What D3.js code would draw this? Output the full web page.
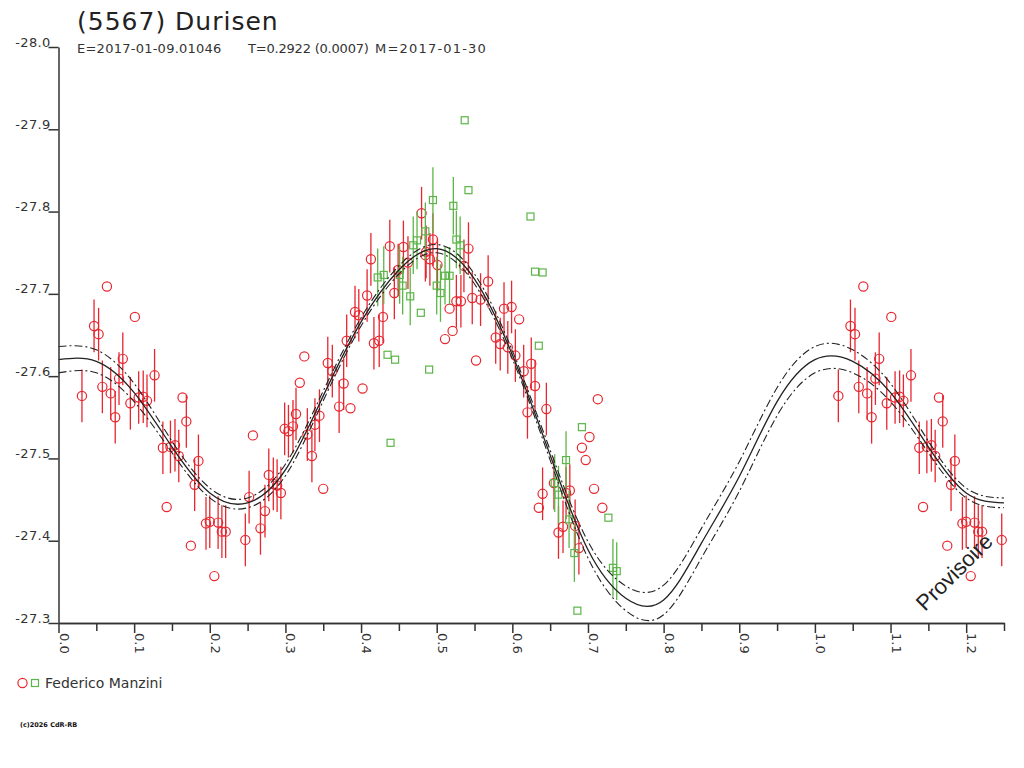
<!DOCTYPE html>
<html>
<head>
<meta charset="utf-8">
<script src="https://cdn.jsdelivr.net/npm/d3@7"></script>
<style>
  body { margin: 0; background: #fff; }
  text { font-family: "DejaVu Sans", sans-serif; fill: #333; }
</style>
</head>
<body>
<div id="chart"></div>
<script>
var yTicks = [-28.0, -27.9, -27.8, -27.7, -27.6, -27.5, -27.4, -27.3];
var xTicks = [0.0, 0.1, 0.2, 0.3, 0.4, 0.5, 0.6, 0.7, 0.8, 0.9, 1.0, 1.1, 1.2];
var xMinorTicks = [0.05, 0.15, 0.25, 0.35, 0.45, 0.55, 0.65, 0.75, 0.85, 0.95, 1.05, 1.15, 1.25];

// red circles
var redPhase = [
  0.031,0.064,0.047,0.053,0.101,0.058,0.069,0.080,0.085,0.075,
  0.095,0.106,0.112,0.117,0.127,0.164,0.169,0.138,0.148,0.154,
  0.159,0.143,0.185,0.180,0.175,0.195,0.200,0.211,0.216,0.221,
  0.206,0.257,0.252,0.247,0.273,0.267,0.278,0.284,0.289,0.294,
  0.325,0.319,0.314,0.310,0.299,0.304,0.329,0.335,0.339,0.345,
  0.350,0.356,0.362,0.377,0.371,0.386,0.402,0.381,0.392,0.397,
  0.408,0.413,0.429,0.417,0.424,0.438,0.444,0.449,0.456,0.462,
  0.480,0.486,0.491,0.495,0.501,0.485,0.517,0.511,0.542,0.536,
  0.568,0.526,0.532,0.547,0.558,0.521,0.552,0.589,0.599,0.609,
  0.578,0.584,0.594,0.604,0.615,0.625,0.630,0.620,0.645,0.713,
  0.702,0.692,0.697,0.708,0.719,0.640,0.635,0.655,0.676,0.671,
  0.667,0.661,0.683,0.688];
var redMag = [
  -27.576,-27.709,-27.661,-27.651,-27.672,-27.587,-27.579,-27.597,-27.621,-27.550,
  -27.567,-27.574,-27.575,-27.570,-27.601,-27.574,-27.545,-27.513,-27.514,-27.516,
  -27.503,-27.441,-27.497,-27.468,-27.394,-27.421,-27.423,-27.422,-27.411,-27.411,
  -27.357,-27.528,-27.453,-27.401,-27.436,-27.415,-27.480,-27.469,-27.467,-27.458,
  -27.624,-27.592,-27.554,-27.539,-27.536,-27.533,-27.529,-27.503,-27.541,-27.552,
  -27.463,-27.616,-27.606,-27.591,-27.563,-27.561,-27.585,-27.643,-27.678,-27.674,
  -27.698,-27.742,-27.672,-27.640,-27.643,-27.758,-27.701,-27.729,-27.757,-27.738,
  -27.798,-27.751,-27.742,-27.766,-27.735,-27.747,-27.682,-27.645,-27.755,-27.734,
  -27.715,-27.691,-27.691,-27.695,-27.693,-27.655,-27.619,-27.682,-27.684,-27.669,
  -27.647,-27.639,-27.635,-27.625,-27.606,-27.615,-27.588,-27.556,-27.560,-27.572,
  -27.526,-27.513,-27.498,-27.463,-27.440,-27.457,-27.440,-27.470,-27.461,-27.458,
  -27.417,-27.410,-27.418,-27.391];
var redErr = [
  .032,0,.032,.032,0,.032,.032,.032,.032,.032,
  .032,.032,.032,.032,.032,0,.032,.032,.032,.032,
  .032,0,.032,.032,0,.032,.032,.032,.032,.032,
  0,0,.032,.032,.032,.032,.032,.032,.032,.032,
  0,0,.032,.032,.032,.032,.032,.032,.032,.032,
  0,.032,.032,.032,.032,0,0,.032,.032,.032,
  .032,.032,.032,.032,.032,.032,.032,.032,.032,.032,
  .032,.032,.032,.032,.032,.032,0,0,.032,.032,
  .032,.032,.032,.032,.032,0,0,.032,.032,0,
  .032,.032,.032,.032,.032,.032,.032,.032,.032,0,
  0,0,0,0,0,.032,0,.032,.032,.032,
  .032,.032,.032,.032];

// green squares
var greenPhase = [
  0.495,0.522,0.542,0.537,0.485,0.474,0.469,0.526,0.531,0.422,
  0.430,0.451,0.455,0.465,0.500,0.505,0.511,0.517,0.479,0.435,
  0.445,0.490,0.439,0.624,0.630,0.640,0.635,0.692,0.671,0.656,
  0.661,0.675,0.682,0.727,0.733,0.738,0.686];
var greenMag = [
  -27.814,-27.807,-27.826,-27.911,-27.776,-27.765,-27.759,-27.766,-27.759,-27.720,
  -27.723,-27.723,-27.710,-27.697,-27.710,-27.701,-27.722,-27.722,-27.677,-27.626,
  -27.620,-27.608,-27.519,-27.794,-27.727,-27.726,-27.637,-27.538,-27.498,-27.470,
  -27.456,-27.426,-27.385,-27.428,-27.367,-27.363,-27.315];
var greenErr = [
  .04,.035,0,0,.035,.035,.035,.035,.035,.035,
  .035,.035,.035,.035,.035,.035,.035,.035,0,0,
  0,0,0,0,0,0,0,0,.035,.035,
  .035,.035,.035,0,.035,.035,0];

// fitted curve and its envelope
var fitPhase = [0,0.05,0.1,0.15,0.2,0.25,0.3,0.35,0.4,0.45,0.5,0.55,0.6,
                0.65,0.7,0.75,0.8,0.85,0.9,0.95,1.0,1.05,1.1,1.15,1.2,1.25];
var fitMag = [-27.620,-27.618,-27.580,-27.514,-27.458,-27.446,-27.486,-27.576,-27.666,
              -27.729,-27.755,-27.718,-27.626,-27.504,-27.389,-27.330,-27.328,-27.397,
              -27.478,-27.569,-27.620,-27.618,-27.580,-27.514,-27.458,-27.446];
var fitUpper = [-27.636,-27.632,-27.591,-27.521,-27.464,-27.452,-27.493,-27.582,-27.671,
                -27.734,-27.760,-27.724,-27.631,-27.510,-27.399,-27.345,-27.346,-27.415,
                -27.496,-27.586,-27.636,-27.632,-27.591,-27.521,-27.464,-27.452];
var fitLower = [-27.604,-27.604,-27.569,-27.507,-27.452,-27.440,-27.479,-27.570,-27.661,
                -27.724,-27.750,-27.712,-27.621,-27.498,-27.379,-27.315,-27.310,-27.379,
                -27.460,-27.552,-27.604,-27.604,-27.569,-27.507,-27.452,-27.440];

var red = "#e8262f", green = "#5cb548", ink = "#222";

var svg = d3.select("#chart").append("svg")
    .attr("width", 1024)
    .attr("height", 768);

var x = d3.scaleLinear().domain([0, 1.25]).range([58.5, 1004]);
var y = d3.scaleLinear().domain([-28.0, -27.3]).range([47, 623]);

// points are repeated one cycle later where the axis goes past 1.0
function withRepeat(phase, mag, err) {
  var pts = [];
  phase.forEach(function(p, i) {
    pts.push({p: p, m: mag[i], e: err[i]});
    if (p + 1 <= 1.25) pts.push({p: p + 1, m: mag[i], e: err[i]});
  });
  return pts;
}
var redPts = withRepeat(redPhase, redMag, redErr);
var greenPts = withRepeat(greenPhase, greenMag, greenErr);

// error bars
svg.append("g").selectAll("line")
  .data(redPts.filter(function(d) { return d.e > 0; }))
  .enter().append("line")
    .attr("x1", function(d) { return x(d.p); })
    .attr("x2", function(d) { return x(d.p); })
    .attr("y1", function(d) { return y(d.m - d.e); })
    .attr("y2", function(d) { return y(d.m + d.e); })
    .style("stroke", red)
    .style("stroke-width", 1.3);

svg.append("g").selectAll("circle")
  .data(redPts)
  .enter().append("circle")
    .attr("cx", function(d) { return x(d.p); })
    .attr("cy", function(d) { return y(d.m); })
    .attr("r", 4.6)
    .style("fill", "none")
    .style("stroke", red)
    .style("stroke-width", 1.2);

svg.append("g").selectAll("line")
  .data(greenPts.filter(function(d) { return d.e > 0; }))
  .enter().append("line")
    .attr("x1", function(d) { return x(d.p); })
    .attr("x2", function(d) { return x(d.p); })
    .attr("y1", function(d) { return y(d.m - d.e); })
    .attr("y2", function(d) { return y(d.m + d.e); })
    .style("stroke", green)
    .style("stroke-width", 1.3);

svg.append("g").selectAll("rect")
  .data(greenPts)
  .enter().append("rect")
    .attr("x", function(d) { return x(d.p) - 3.5; })
    .attr("y", function(d) { return y(d.m) - 3.5; })
    .attr("width", 7)
    .attr("height", 7)
    .style("fill", "none")
    .style("stroke", green)
    .style("stroke-width", 1.2);

// fit curves
function curveLine(vals) {
  return d3.line()
    .x(function(d, i) { return x(fitPhase[i]); })
    .y(function(d) { return y(d); })
    .curve(d3.curveNatural)(vals);
}
svg.append("path").attr("d", curveLine(fitMag))
  .style("fill", "none").style("stroke", ink).style("stroke-width", 1.3);
[fitUpper, fitLower].forEach(function(v) {
  svg.append("path").attr("d", curveLine(v))
    .style("fill", "none").style("stroke", ink).style("stroke-width", 1.1)
    .style("stroke-dasharray", "8,3,2,3");
});

// axes
var yAxis = d3.axisLeft(y).tickValues(yTicks).tickSize(10).tickSizeOuter(0)
    .tickFormat(function(d) { return d.toFixed(1); });
var yG = svg.append("g").attr("transform", "translate(58.5,0)").call(yAxis);
yG.selectAll("text")
    .attr("x", -8).attr("y", -1).attr("dy", 0)
    .style("font-size", "13px").style("letter-spacing", "0.3px")
    .style("font-family", "DejaVu Sans").style("fill", "#333");

var xMinor = d3.axisBottom(x).tickValues(xMinorTicks).tickSize(8).tickSizeOuter(0).tickFormat("");
svg.append("g").attr("transform", "translate(0,623)").call(xMinor);
var xAxis = d3.axisBottom(x).tickValues(xTicks).tickSize(10).tickSizeOuter(0)
    .tickFormat(function(d) { return d.toFixed(1); });
var xG = svg.append("g").attr("transform", "translate(0,623)").call(xAxis);
xG.selectAll("text")
    .attr("transform", "rotate(90)")
    .attr("x", 10).attr("y", -0.5).attr("dy", 0)
    .style("text-anchor", "start")
    .style("font-size", "13px")
    .style("font-family", "DejaVu Sans").style("fill", "#333");

svg.selectAll(".domain, .tick line").style("stroke", "#333").style("stroke-width", 1.5);

// titles
svg.append("text").attr("x", 77).attr("y", 30)
    .style("font-size", "25px").style("letter-spacing", "1px").style("fill", ink)
    .text("(5567) Durisen");
svg.append("text").attr("x", 77).attr("y", 53).style("font-size", "13px")
    .style("letter-spacing", "0.25px").text("E=2017-01-09.01046");
svg.append("text").attr("x", 248).attr("y", 53).style("font-size", "13px")
    .style("letter-spacing", "-0.2px").text("T=0.2922 (0.0007)");
svg.append("text").attr("x", 375).attr("y", 53).style("font-size", "13px")
    .style("letter-spacing", "1.2px").text("M=2017-01-30");

// watermark
svg.append("text")
    .attr("transform", "translate(925,612) rotate(-45)")
    .style("font-family", "Liberation Sans, Arial, sans-serif")
    .style("font-size", "22px").style("fill", ink)
    .text("Provisoire");

// legend
svg.append("circle").attr("cx", 22.5).attr("cy", 683).attr("r", 4.6)
    .style("fill", "none").style("stroke", red).style("stroke-width", 1.2);
svg.append("rect").attr("x", 31.5).attr("y", 679.5).attr("width", 7).attr("height", 7)
    .style("fill", "none").style("stroke", green).style("stroke-width", 1.2);
svg.append("text").attr("x", 45).attr("y", 688).style("font-size", "14px")
    .text("Federico Manzini");

svg.append("text").attr("x", 20).attr("y", 727)
    .style("font-size", "6.5px").style("font-weight", "bold").style("fill", "#111")
    .text("(c)2026 CdR-RB");
</script>
</body>
</html>
